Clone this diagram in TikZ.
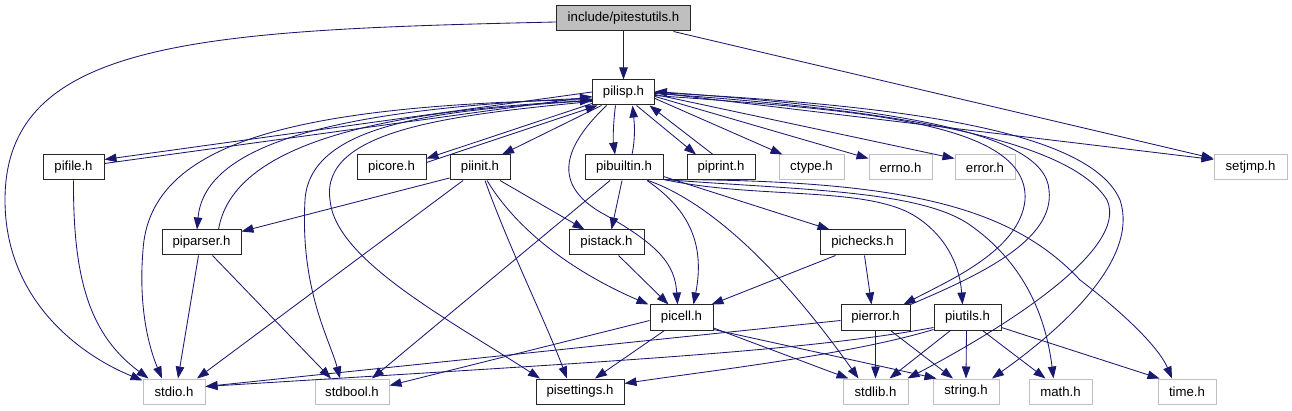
\documentclass[tikz,border=0pt]{standalone}
\usepackage{fontspec}
\setmainfont{Liberation Sans}
\usetikzlibrary{arrows.meta}
\definecolor{edgeblue}{HTML}{191970}
\definecolor{sysgrey}{HTML}{BFBFBF}
\begin{document}
\begin{tikzpicture}[x=1pt,y=-1pt,
 box/.style={minimum height=25pt, inner sep=0pt, font=\fontsize{13.2}{15}\selectfont, text=black},
 proj/.style={box, draw=black!85, line width=1pt, fill=white},
 sys/.style={box, draw=sysgrey, line width=1pt, fill=white},
 root/.style={box, draw=black!85, line width=1pt, fill=sysgrey},
 e/.style={draw=edgeblue, line width=0.85pt, -{Triangle[length=12pt,width=8.5pt]}}]
\useasboundingbox (0,0) rectangle (1292,411);
% nodes
\node[root, minimum width=134pt] (pitestutils) at (623.5,18.5) {include/pitestutils.h};
\node[proj, minimum width=62pt] (pilisp) at (623.5,92.5) {pilisp.h};
\node[proj, minimum width=61pt] (pifile) at (73.5,167.5) {pifile.h};
\node[proj, minimum width=69pt] (picore) at (391.5,167.5) {picore.h};
\node[proj, minimum width=60pt] (piinit) at (480,167.5) {piinit.h};
\node[proj, minimum width=78pt] (pibuiltin) at (624,167.5) {pibuiltin.h};
\node[proj, minimum width=68pt] (piprint) at (721,167.5) {piprint.h};
\node[sys, minimum width=65pt] (ctype) at (811.5,167.5) {ctype.h};
\node[sys, minimum width=63pt] (errno) at (900.5,167.5) {errno.h};
\node[sys, minimum width=60pt] (error) at (985,167.5) {error.h};
\node[sys, minimum width=73pt] (setjmp) at (1250.5,167.5) {setjmp.h};
\node[proj, minimum width=79pt] (piparser) at (201.5,242.5) {piparser.h};
\node[proj, minimum width=75pt] (pistack) at (606.5,242.5) {pistack.h};
\node[proj, minimum width=85pt] (pichecks) at (862.5,242.5) {pichecks.h};
\node[proj, minimum width=63pt] (picell) at (681.5,317.5) {picell.h};
\node[proj, minimum width=69pt] (pierror) at (875.5,317.5) {pierror.h};
\node[proj, minimum width=67pt] (piutils) at (967.5,317.5) {piutils.h};
\node[sys, minimum width=62pt] (stdio) at (174,391.5) {stdio.h};
\node[sys, minimum width=74pt] (stdbool) at (352,391.5) {stdbool.h};
\node[proj, minimum width=88pt] (pisettings) at (580,391.5) {pisettings.h};
\node[sys, minimum width=65pt] (stdlib) at (875.5,391.5) {stdlib.h};
\node[sys, minimum width=66pt] (string) at (966,391.5) {string.h};
\node[sys, minimum width=63pt] (math) at (1060.5,391.5) {math.h};
\node[sys, minimum width=58pt] (time) at (1187,391.5) {time.h};
% edges from include/pitestutils.h
\draw[e] ([yshift=-3.5pt]pitestutils.west) .. controls (200,30) and (5,40) .. (5,200) .. controls (5,300) and (80,355) .. ([yshift=-2pt]stdio.north west);
\draw[e] (pitestutils) -- (pilisp);
\draw[e] ([xshift=50pt]pitestutils.south) -- ([yshift=9pt]setjmp.west);
% pilisp.h
\draw[e] ([yshift=0.5pt]pilisp.west) -- ([yshift=8pt]pifile.east);
\draw[e] ([yshift=4pt]pifile.east) -- ([yshift=-4pt]pilisp.west);
\draw[e] ([yshift=-11pt]pilisp.west) -- ([yshift=9pt]picore.east);
\draw[e] ([yshift=5pt]picore.east) -- ([xshift=-26pt]pilisp.south);
\draw[e] ([xshift=-22pt]pilisp.south) -- ([xshift=22pt]piinit.north);
\draw[e] ([xshift=-8pt]pilisp.south) .. controls (613,125) and (613,140) .. ([xshift=-9pt]pibuiltin.north);
\draw[e] ([xshift=8pt]pibuiltin.north) .. controls (636,135) and (634,120) .. ([xshift=9pt]pilisp.south);
\draw[e] ([xshift=13pt]pilisp.south) -- ([xshift=-25pt]piprint.north);
\draw[e] ([xshift=-8pt]piprint.north) -- ([xshift=26pt]pilisp.south);
\draw[e] ([yshift=-6pt]pilisp.east) -- ([xshift=-29pt]ctype.north);
\draw[e] ([yshift=-4pt]pilisp.east) -- ([yshift=9pt]errno.west);
\draw[e] ([yshift=-2pt]pilisp.east) -- ([yshift=9pt]error.west);
\draw[e] (pilisp.east) -- ([yshift=8pt]setjmp.west);
\draw[e] ([yshift=-5.5pt]pilisp.west) .. controls (350,108) and (205,140) .. ([xshift=-4.5pt]piparser.north);
\draw[e] ([xshift=17pt]piparser.north) .. controls (232,150) and (360,112) .. ([yshift=-8pt]pilisp.west);
\draw[e] ([yshift=-7pt]pilisp.west) .. controls (300,105) and (150,140) .. (143,250) .. controls (138,310) and (150,350) .. ([xshift=-12pt]stdio.north);
\draw[e] ([yshift=-8pt]pilisp.west) .. controls (450,110) and (310,120) .. (305,200) .. controls (300,290) and (330,340) .. ([xshift=-12pt]stdbool.north);
\draw[e] ([yshift=-9pt]pilisp.west) .. controls (450,115) and (320,130) .. (330,200) .. controls (335,260) and (450,320) .. ([xshift=-40pt]pisettings.north);
\draw[e] ([xshift=-17pt]pilisp.south) .. controls (560,150) and (555,185) .. (600,212) .. controls (660,245) and (675,265) .. ([xshift=-4pt]picell.north);
\draw[e] ([yshift=-3pt]pilisp.east) .. controls (850,110) and (1030,120) .. (1025,200) .. controls (1020,250) and (950,280) .. ([xshift=28pt]pierror.north);
\draw[e] (pierror.north east) .. controls (980,275) and (1055,240) .. (1049,190) .. controls (1045,130) and (880,108) .. ([yshift=1pt]pilisp.east);
\draw[e] ([yshift=-1pt]pilisp.east) .. controls (900,110) and (1070,140) .. (1107,200) .. controls (1130,250) and (1000,330) .. ([xshift=-1pt]stdlib.north east);
\draw[e] (pilisp.east) .. controls (900,105) and (1090,130) .. (1120,200) .. controls (1140,260) and (1060,330) .. ([xshift=26pt]string.north);
% pifile.h
\draw[e] (pifile.south) .. controls (73,280) and (90,335) .. ([xshift=6pt]stdio.north west);
% pibuiltin.h
\draw[e] ([xshift=23pt]pibuiltin.south) .. controls (690,210) and (705,245) .. ([xshift=12pt]picell.north);
\draw[e] ([xshift=-2pt]pibuiltin.south) -- ([xshift=5pt]pistack.north);
\draw[e] ([xshift=-14pt]pibuiltin.south) -- ([xshift=20pt]stdbool.north);
\draw[e] ([yshift=-9pt]pibuiltin.east) -- ([xshift=-33pt]pichecks.north);
\draw[e] ([xshift=24pt]pibuiltin.south) .. controls (690,195) and (760,240) .. ([xshift=-17pt]stdlib.north);
\draw[e] ([yshift=-12pt]pibuiltin.east) .. controls (760,200) and (870,185) .. (918,218) .. controls (950,240) and (960,270) .. ([xshift=-5pt]piutils.north);
\draw[e] ([yshift=-12pt]pibuiltin.east) .. controls (800,190) and (920,190) .. (970,225) .. controls (1020,260) and (1045,310) .. ([xshift=-7pt]math.north);
\draw[e] ([yshift=-12pt]pibuiltin.east) .. controls (900,180) and (1010,205) .. (1080,280) .. controls (1130,318) and (1160,350) .. ([xshift=-15pt]time.north);
% piinit.h
\draw[e] ([yshift=-10.5pt]piinit.west) -- ([yshift=11pt]piparser.east);
\draw[e] ([xshift=-17pt]piinit.south) -- ([xshift=23pt]stdio.north);
\draw[e] ([xshift=20pt]piinit.south) -- ([xshift=-22pt]pistack.north);
\draw[e] ([xshift=7pt]piinit.south) .. controls (520,235) and (580,275) .. ([xshift=-33pt]picell.north);
\draw[e] ([xshift=5pt]piinit.south) .. controls (510,250) and (545,320) .. ([xshift=-13pt]pisettings.north);
% piparser.h
\draw[e] ([xshift=-3pt]piparser.south) -- ([xshift=4pt]stdio.north);
\draw[e] ([xshift=11pt]piparser.south) -- ([xshift=-21pt]stdbool.north);
% pistack.h, pichecks.h
\draw[e] ([xshift=12pt]pistack.south) -- ([xshift=-13pt]picell.north);
\draw[e] ([xshift=-27pt]pichecks.south) -- ([xshift=30pt]picell.north);
\draw[e] ([xshift=2pt]pichecks.south) -- ([xshift=-4pt]pierror.north);
% picell.h
\draw[e] ([yshift=-3pt]picell.west) -- ([yshift=6pt]stdbool.east);
\draw[e] ([xshift=-17pt]picell.south) -- ([xshift=15pt]pisettings.north);
\draw[e] ([yshift=-10.5pt]picell.east) -- ([xshift=-27pt]stdlib.north);
\draw[e] ([yshift=-12pt]picell.east) -- ([xshift=4pt]string.north west);
% pierror.h
\draw[e] ([yshift=-3pt]pierror.west) -- ([yshift=5pt]stdio.east);
\draw[e] (pierror.south) -- (stdlib.north);
\draw[e] ([xshift=15pt]pierror.south) -- ([xshift=-13pt]string.north);
% piutils.h
\draw[e] ([yshift=-10pt]piutils.west) .. controls (800,352) and (600,362) .. ([yshift=5pt]stdio.east);
\draw[e] ([yshift=-12pt]piutils.west) .. controls (850,355) and (700,372) .. ([yshift=8pt]pisettings.east);
\draw[e] ([xshift=-17pt]piutils.south) -- ([xshift=14pt]stdlib.north);
\draw[e] ([xshift=-1pt]piutils.south) -- (string.north);
\draw[e] ([xshift=15pt]piutils.south) -- ([xshift=-15pt]math.north);
\draw[e] ([yshift=-10pt]piutils.east) -- ([xshift=2pt]time.north west);
\end{tikzpicture}
\end{document}
